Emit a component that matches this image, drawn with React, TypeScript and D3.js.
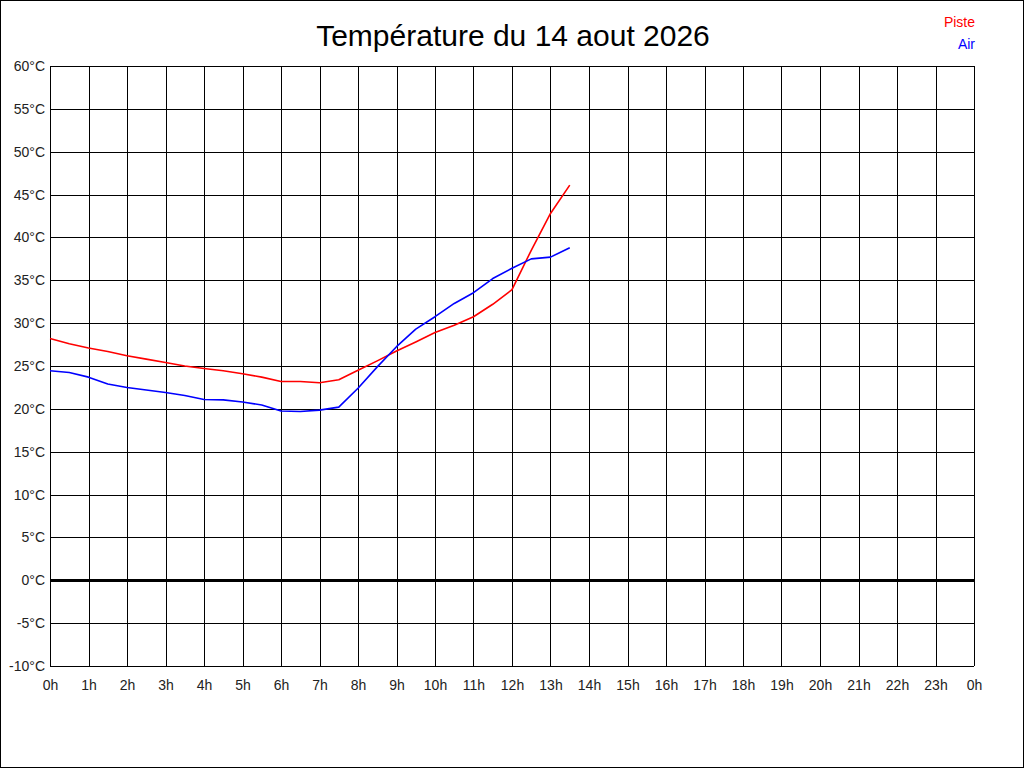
import { useEffect, useRef } from 'react';
import * as d3 from 'd3';

const WIDTH = 1024;
const HEIGHT = 768;
const TITLE = 'Température du 14 aout 2026';

// half-hour readings, hours since midnight
const HOURS = [
  0, 0.5, 1, 1.5, 2, 2.5, 3, 3.5, 4, 4.5, 5, 5.5, 6, 6.5,
  7, 7.5, 8, 8.5, 9, 9.5, 10, 10.5, 11, 11.5, 12, 12.5, 13, 13.5,
];

const PISTE = [
  28.2, 27.6, 27.1, 26.7, 26.2, 25.8, 25.4, 25.0, 24.7, 24.45, 24.1, 23.7, 23.2, 23.2,
  23.05, 23.4, 24.5, 25.6, 26.75, 27.8, 28.9, 29.75, 30.75, 32.2, 33.9, 38.5, 42.8, 46.1,
];

const AIR = [
  24.45, 24.25, 23.7, 22.9, 22.5, 22.2, 21.9, 21.55, 21.1, 21.05, 20.8, 20.45, 19.75, 19.7,
  19.85, 20.2, 22.4, 24.9, 27.25, 29.3, 30.75, 32.3, 33.55, 35.2, 36.4, 37.5, 37.7, 38.8,
];

const X_TICKS = d3.range(0, 25, 1);
const Y_TICKS = d3.range(-10, 61, 5);

const SERIES = [
  { name: 'Piste', color: '#ff0000', values: PISTE },
  { name: 'Air', color: '#0000ff', values: AIR },
];

const margin = { top: 66, right: 50, bottom: 102, left: 50 };

export default function App() {
  const svgRef = useRef<SVGSVGElement>(null);

  useEffect(() => {
    document.body.style.margin = '0';
    if (!svgRef.current) return;

    const svg = d3.select(svgRef.current);
    svg.selectAll('*').remove();

    const x = d3.scaleLinear().domain([0, 24]).range([margin.left, WIDTH - margin.right]);
    const y = d3.scaleLinear().domain([-10, 60]).range([HEIGHT - margin.bottom, margin.top]);

    svg.append('rect')
      .attr('width', WIDTH).attr('height', HEIGHT).attr('fill', '#fff');

    // outer frame
    svg.append('rect')
      .attr('x', 0.5).attr('y', 0.5)
      .attr('width', WIDTH - 1).attr('height', HEIGHT - 1)
      .attr('fill', 'none').attr('stroke', '#000');

    svg.append('text')
      .attr('x', 513).attr('y', 46)
      .attr('text-anchor', 'middle')
      .attr('font-family', 'Liberation Sans, Arial, sans-serif')
      .attr('font-size', 30)
      .attr('fill', '#000')
      .text(TITLE);

    const grid = svg.append('g').attr('shape-rendering', 'crispEdges');

    grid.selectAll('line.v')
      .data(X_TICKS)
      .join('line')
      .attr('class', 'v')
      .attr('x1', d => Math.round(x(d)) + 0.5).attr('x2', d => Math.round(x(d)) + 0.5)
      .attr('y1', y(60)).attr('y2', y(-10))
      .attr('stroke', '#000');

    grid.selectAll('line.h')
      .data(Y_TICKS)
      .join('line')
      .attr('class', 'h')
      .attr('x1', x(0)).attr('x2', x(24))
      .attr('y1', d => Math.round(y(d)) + 0.5).attr('y2', d => Math.round(y(d)) + 0.5)
      .attr('stroke', '#000');

    // zero line
    grid.append('line')
      .attr('x1', x(0)).attr('x2', x(24))
      .attr('y1', Math.round(y(0)) + 0.5).attr('y2', Math.round(y(0)) + 0.5)
      .attr('stroke', '#000').attr('stroke-width', 3);

    const labels = svg.append('g')
      .attr('font-family', 'Liberation Sans, Arial, sans-serif')
      .attr('font-size', 14)
      .attr('fill', '#222');

    labels.selectAll('text.y')
      .data(Y_TICKS)
      .join('text')
      .attr('class', 'y')
      .attr('x', x(0) - 5)
      .attr('y', d => y(d) + 5)
      .attr('text-anchor', 'end')
      .text(d => `${d}°C`);

    labels.selectAll('text.x')
      .data(X_TICKS)
      .join('text')
      .attr('class', 'x')
      .attr('x', d => x(d) + 0.5)
      .attr('y', y(-10) + 24)
      .attr('text-anchor', 'middle')
      .text(d => `${d % 24}h`);

    const line = d3.line<number>()
      .x((_, i) => x(HOURS[i]))
      .y(d => y(d));

    SERIES.forEach(s => {
      svg.append('path')
        .datum(s.values)
        .attr('fill', 'none')
        .attr('stroke', s.color)
        .attr('stroke-width', 1.6)
        .attr('stroke-linejoin', 'round')
        .attr('d', line);
    });

    const legend = svg.append('g')
      .attr('font-family', 'Liberation Sans, Arial, sans-serif')
      .attr('font-size', 14)
      .attr('text-anchor', 'end');

    legend.selectAll('text')
      .data(SERIES)
      .join('text')
      .attr('x', 975)
      .attr('y', (_, i) => 27 + i * 22)
      .attr('fill', d => d.color)
      .text(d => d.name);
  }, []);

  return <svg ref={svgRef} width={WIDTH} height={HEIGHT} style={{ display: 'block' }} />;
}
